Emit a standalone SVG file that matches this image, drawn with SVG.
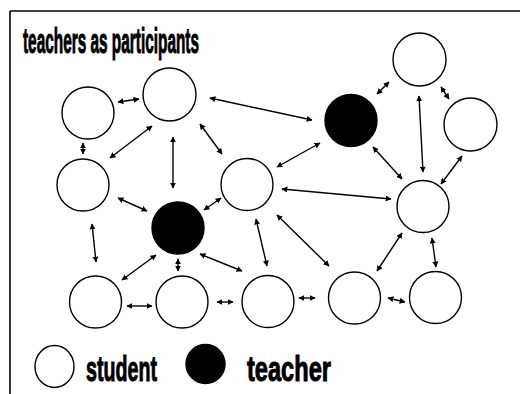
<svg xmlns="http://www.w3.org/2000/svg" width="520" height="394" viewBox="0 0 520 394">
<defs>
<marker id="ah" viewBox="0 0 10 10" refX="9" refY="5" markerWidth="6" markerHeight="6" markerUnits="userSpaceOnUse" orient="auto-start-reverse">
<path d="M0,0 L10,5 L0,10 z" fill="#000"/>
</marker>
<style>
.s{fill:#fff;stroke:#000;stroke-width:1.4}
.t{fill:#000;stroke:#000;stroke-width:1.4}
.c line{stroke:#000;stroke-width:1.4;marker-start:url(#ah);marker-end:url(#ah)}
.lbl{font-family:"Liberation Sans",Arial,sans-serif;font-weight:bold;font-size:35px;fill:#000;stroke:#000;stroke-width:1}
</style>
</defs>
<rect width="520" height="394" fill="#fff"/>
<line x1="10" y1="11" x2="520" y2="11" stroke="#000" stroke-width="1.4"/>
<line x1="10" y1="11" x2="10" y2="394" stroke="#000" stroke-width="1.6"/>
<text class="lbl" x="23" y="53" textLength="176" lengthAdjust="spacingAndGlyphs">teachers as participants</text>
<g class="c" id="connectors">
<line x1="118" y1="102" x2="139" y2="99"/>
<line x1="83" y1="143" x2="83" y2="154"/>
<line x1="152" y1="126" x2="110" y2="158"/>
<line x1="173" y1="137" x2="173" y2="188"/>
<line x1="200" y1="124" x2="222" y2="154"/>
<line x1="210" y1="98" x2="312" y2="120"/>
<line x1="377" y1="94" x2="389" y2="82"/>
<line x1="441" y1="87" x2="449" y2="99"/>
<line x1="419" y1="96" x2="423" y2="172"/>
<line x1="462" y1="156" x2="441" y2="184"/>
<line x1="320" y1="143" x2="277" y2="167"/>
<line x1="373" y1="147" x2="402" y2="179"/>
<line x1="391" y1="199" x2="282" y2="189"/>
<line x1="402" y1="233" x2="377" y2="271"/>
<line x1="432" y1="238" x2="436" y2="267"/>
<line x1="277" y1="215" x2="329" y2="266"/>
<line x1="256" y1="219" x2="267" y2="266"/>
<line x1="299" y1="298" x2="315" y2="298"/>
<line x1="388" y1="298" x2="405" y2="302"/>
<line x1="92" y1="224" x2="96" y2="262"/>
<line x1="118" y1="198" x2="147" y2="211"/>
<line x1="156" y1="255" x2="122" y2="280"/>
<line x1="178" y1="259" x2="178" y2="271"/>
<line x1="200" y1="254" x2="242" y2="271"/>
<line x1="127" y1="306" x2="152" y2="306"/>
<line x1="217" y1="302" x2="233" y2="302"/>
<line x1="204" y1="210" x2="221" y2="198"/>
</g>
<g id="nA"><circle class="s" cx="88" cy="113" r="26"/></g>
<g id="nB"><circle class="s" cx="169.5" cy="94.5" r="26.5"/></g>
<g id="nC"><circle class="s" cx="83" cy="185" r="26"/></g>
<g id="nT1"><circle class="t" cx="178" cy="228" r="26"/></g>
<g id="nD"><circle class="s" cx="247" cy="184.5" r="26"/></g>
<g id="nT2"><circle class="t" cx="351" cy="120.5" r="26"/></g>
<g id="nE"><circle class="s" cx="419.5" cy="59.5" r="26.5"/></g>
<g id="nF"><circle class="s" cx="470.5" cy="124.5" r="26.5"/></g>
<g id="nG"><circle class="s" cx="423" cy="206.5" r="26"/></g>
<g id="nH"><circle class="s" cx="95.5" cy="302" r="26"/></g>
<g id="nI"><circle class="s" cx="182" cy="302" r="26"/></g>
<g id="nJ"><circle class="s" cx="268" cy="301.5" r="26"/></g>
<g id="nK"><circle class="s" cx="354.5" cy="298" r="26"/></g>
<g id="nL"><circle class="s" cx="435.5" cy="297.5" r="26"/></g>
<g id="legend-student">
<ellipse class="s" cx="54.5" cy="366.5" rx="19.5" ry="21"/>
<text class="lbl" x="86" y="381" textLength="71" lengthAdjust="spacingAndGlyphs">student</text>
</g>
<g id="legend-teacher">
<circle class="t" cx="205.5" cy="364" r="19.5"/>
<text class="lbl" x="247" y="381" textLength="84" lengthAdjust="spacingAndGlyphs">teacher</text>
</g>
</svg>
